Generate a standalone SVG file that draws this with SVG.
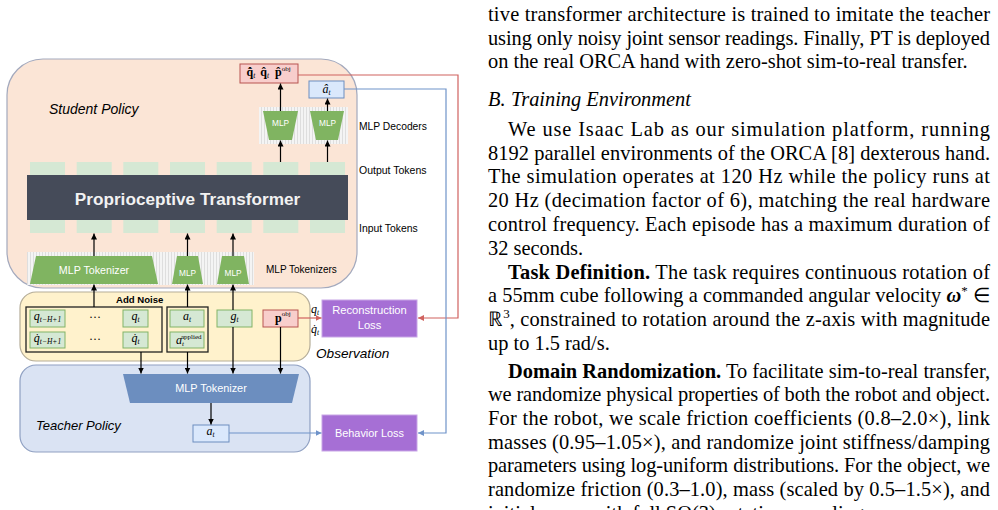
<svg xmlns="http://www.w3.org/2000/svg" width="998" height="510" viewBox="0 0 998 510">
<defs>
  <pattern id="stripes" width="3" height="3" patternUnits="userSpaceOnUse">
    <rect width="3" height="3" fill="#f4f4f4"/>
    <rect width="1" height="3" fill="#dedede"/>
  </pattern>
  <marker id="ah" viewBox="0 0 10 10" refX="10" refY="5" markerWidth="6" markerHeight="6" orient="auto" markerUnits="userSpaceOnUse">
    <path d="M0,0 L10,5 L0,10 z" fill="#000"/>
  </marker>
  <marker id="ahr" viewBox="0 0 10 10" refX="10" refY="5" markerWidth="6" markerHeight="6" orient="auto" markerUnits="userSpaceOnUse">
    <path d="M0,0 L10,5 L0,10 z" fill="#d0625f"/>
  </marker>
  <marker id="ahb" viewBox="0 0 10 10" refX="10" refY="5" markerWidth="6" markerHeight="6" orient="auto" markerUnits="userSpaceOnUse">
    <path d="M0,0 L10,5 L0,10 z" fill="#6f93c9"/>
  </marker>
</defs>
<style>
  .sans{font-family:"Liberation Sans",Arial,sans-serif;fill:#000}
  .it{font-style:italic}
  .wt{fill:#fff}
  .m{font-family:"Liberation Serif","Times New Roman",serif;fill:#000}
  .mi{font-family:"Liberation Serif","Times New Roman",serif;font-style:italic;fill:#000}
  .up{font-style:normal}
  .body{font-family:"Liberation Serif","Times New Roman",serif;font-size:20.4px;fill:#000}
  .tok{fill:#d5e8d4}
  .gbox{fill:#d5e8d4;stroke:#82b366;stroke-width:1}
  .rbox{fill:#f8cecc;stroke:#b85450;stroke-width:1}
  .bbox{fill:#dae8fc;stroke:#6c8ebf;stroke-width:1}
  .kbox{fill:none;stroke:#222;stroke-width:1.3}
  .green{fill:#80b461}
  .purple{fill:#a66fd5;stroke:#c8a6e6;stroke-width:1}
  .ln{fill:none;stroke:#000;stroke-width:1.2}
  .lr{fill:none;stroke:#d0625f;stroke-width:1.2}
  .lb{fill:none;stroke:#6f93c9;stroke-width:1.2}
</style>

<!-- Containers -->
<g id="student-policy">
  <rect x="7" y="59" width="350" height="229" rx="36" fill="#fbe5d6" stroke="#a3a9bd" stroke-width="1.2"/>
  <text class="sans it" x="49" y="114" font-size="14">Student Policy</text>
</g>
<g id="observation">
  <rect x="20" y="292" width="290" height="69" rx="16" fill="#fff2cc" stroke="#b5ad98" stroke-width="1.2"/>
  <text class="sans it" x="316" y="358" font-size="13.6">Observation</text>
</g>
<g id="teacher-policy">
  <rect x="20" y="365" width="290" height="87" rx="16" fill="#dae3f3" stroke="#8fa0c2" stroke-width="1.2"/>
  <text class="sans it" x="36" y="430" font-size="13">Teacher Policy</text>
</g>

<!-- Student internals -->
<g id="output-tokens">
  <rect class="tok" x="30" y="162" width="35" height="13"/>
  <rect class="tok" x="76.7" y="162" width="35" height="13"/>
  <rect class="tok" x="123.3" y="162" width="35" height="13"/>
  <rect class="tok" x="170" y="162" width="35" height="13"/>
  <rect class="tok" x="216.7" y="162" width="35" height="13"/>
  <rect class="tok" x="263.3" y="162" width="35" height="13"/>
  <rect class="tok" x="310" y="162" width="35" height="13"/>
  <text class="sans" x="359" y="174" font-size="10.5">Output Tokens</text>
</g>
<g id="transformer">
  <rect x="27" y="175" width="321" height="45" fill="#454b59"/>
  <text class="sans" x="187.5" y="205" font-size="17.2" font-weight="bold" text-anchor="middle" style="fill:#f2f2f2">Proprioceptive Transformer</text>
</g>
<g id="input-tokens">
  <rect class="tok" x="30" y="220" width="35" height="13"/>
  <rect class="tok" x="76.7" y="220" width="35" height="13"/>
  <rect class="tok" x="123.3" y="220" width="35" height="13"/>
  <rect class="tok" x="170" y="220" width="35" height="13"/>
  <rect class="tok" x="216.7" y="220" width="35" height="13"/>
  <rect class="tok" x="263.3" y="220" width="35" height="13"/>
  <rect class="tok" x="310" y="220" width="35" height="13"/>
  <text class="sans" x="359" y="232" font-size="10.4">Input Tokens</text>
</g>
<g id="mlp-tokenizers">
  <rect x="27" y="252" width="227" height="33" fill="url(#stripes)"/>
  <polygon class="green" points="36,256 152,256 158,284 30,284"/>
  <text class="sans wt" x="94" y="274" font-size="10.7" text-anchor="middle">MLP Tokenizer</text>
  <polygon class="green" points="177,256 198,256 203,284 172,284"/>
  <text class="sans wt" x="187.5" y="276" font-size="8.3" text-anchor="middle">MLP</text>
  <polygon class="green" points="222,256 244,256 249,284 217,284"/>
  <text class="sans wt" x="233" y="276" font-size="8.3" text-anchor="middle">MLP</text>
  <text class="sans" x="266" y="273" font-size="10">MLP Tokenizers</text>
</g>
<g id="mlp-decoders">
  <rect x="259" y="107" width="89" height="37" fill="url(#stripes)"/>
  <polygon class="green" points="263,111 298,111 292,140 269,140"/>
  <text class="sans wt" x="280.5" y="126" font-size="8.3" text-anchor="middle">MLP</text>
  <polygon class="green" points="310,111 344,111 338,140 316,140"/>
  <text class="sans wt" x="327.5" y="126" font-size="8.3" text-anchor="middle">MLP</text>
  <text class="sans" x="359" y="130" font-size="10.3">MLP Decoders</text>
</g>
<g id="reconstruction-output">
  <rect class="rbox" x="240" y="64" width="58" height="19"/>
  <text class="m" x="246.5" y="76" font-size="12"><tspan font-weight="bold">q̂̇</tspan><tspan class="mi" font-size="7.5" dy="2">t</tspan><tspan font-weight="bold" dx="5" dy="-2">q̂</tspan><tspan class="mi" font-size="7.5" dy="2">t</tspan><tspan font-weight="bold" dx="6" dy="-2">p̂</tspan><tspan font-size="7" dy="-5">obj</tspan></text>
</g>
<g id="action-output">
  <rect class="bbox" x="309" y="81" width="35" height="17"/>
  <text class="mi" x="326.5" y="92.5" font-size="12" text-anchor="middle">â<tspan font-size="7.5" dy="2">t</tspan></text>
</g>

<!-- Observation internals -->
<g id="noisy-inputs">
  <text class="sans" x="116" y="303" font-size="9.6" font-weight="bold">Add Noise</text>
  <rect class="kbox" x="26" y="307" width="136" height="45"/>
  <rect class="kbox" x="167" y="307" width="41" height="45"/>
  <rect class="gbox" x="30" y="310" width="35" height="17"/>
  <text class="mi" x="47.5" y="320" font-size="12" text-anchor="middle">q<tspan font-size="7.5" dy="2">t−H+1</tspan></text>
  <text class="m" x="95" y="321" font-size="12" text-anchor="middle">···</text>
  <rect class="gbox" x="123" y="310" width="25" height="17"/>
  <text class="mi" x="135.5" y="320" font-size="12" text-anchor="middle">q<tspan font-size="7.5" dy="2">t</tspan></text>
  <rect class="gbox" x="30" y="332" width="35" height="16"/>
  <text class="mi" x="47.5" y="342" font-size="12" text-anchor="middle">q̇<tspan font-size="7.5" dy="2">t−H+1</tspan></text>
  <text class="m" x="95" y="343" font-size="12" text-anchor="middle">···</text>
  <rect class="gbox" x="123" y="332" width="25" height="16"/>
  <text class="mi" x="135.5" y="342" font-size="12" text-anchor="middle">q̇<tspan font-size="7.5" dy="2">t</tspan></text>
  <rect class="gbox" x="170" y="310" width="34" height="17"/>
  <text class="mi" x="187" y="320" font-size="12" text-anchor="middle">a<tspan font-size="7.5" dy="2">t</tspan></text>
  <rect class="gbox" x="170" y="332" width="34" height="16"/>
  <text class="mi" x="176" y="344" font-size="12">a<tspan font-size="7" dy="2">t</tspan><tspan class="up" font-size="7" dx="-3" dy="-7">applied</tspan></text>
</g>
<g id="goal">
  <rect class="gbox" x="217" y="310" width="35" height="17"/>
  <text class="mi" x="234.5" y="320" font-size="12" text-anchor="middle">g<tspan font-size="7.5" dy="2">t</tspan></text>
</g>
<g id="object-pose">
  <rect class="rbox" x="263" y="310" width="35" height="17"/>
  <text class="m" x="275" y="321.5" font-size="12"><tspan font-weight="bold">p</tspan><tspan font-size="7" dy="-5.5">obj</tspan></text>
</g>
<g id="joint-targets">
  <text class="mi" x="311" y="313" font-size="12">q<tspan font-size="7.5" dy="2">t</tspan></text>
  <text class="mi" x="311" y="333" font-size="12">q̇<tspan font-size="7.5" dy="2">t</tspan></text>
</g>

<!-- Teacher internals -->
<g id="teacher-tokenizer">
  <polygon points="123,374 299,374 292,403 130,403" fill="#6c8ebf"/>
  <text class="sans wt" x="211" y="392" font-size="10.9" text-anchor="middle">MLP Tokenizer</text>
</g>
<g id="teacher-action">
  <rect class="bbox" x="193" y="425" width="36" height="17"/>
  <text class="mi" x="210.5" y="435" font-size="12" text-anchor="middle">a<tspan font-size="7.5" dy="2">t</tspan></text>
</g>

<!-- Losses -->
<g id="reconstruction-loss">
  <rect class="purple" x="322" y="300" width="95" height="37"/>
  <text class="sans wt" x="369.5" y="314" font-size="11.2" text-anchor="middle">Reconstruction</text>
  <text class="sans wt" x="369.5" y="329" font-size="11.2" text-anchor="middle">Loss</text>
</g>
<g id="behavior-loss">
  <rect class="purple" x="322" y="415" width="95" height="36"/>
  <text class="sans wt" x="369.5" y="437" font-size="10.9" text-anchor="middle">Behavior Loss</text>
</g>

<!-- Connectors -->
<g id="connectors">
  <line class="ln" x1="94" y1="256" x2="94" y2="233.5" marker-end="url(#ah)"/>
  <line class="ln" x1="187.5" y1="256" x2="187.5" y2="233.5" marker-end="url(#ah)"/>
  <line class="ln" x1="233" y1="256" x2="233" y2="233.5" marker-end="url(#ah)"/>
  <line class="ln" x1="280.5" y1="162" x2="280.5" y2="140.5" marker-end="url(#ah)"/>
  <line class="ln" x1="327.5" y1="162" x2="327.5" y2="140.5" marker-end="url(#ah)"/>
  <line class="ln" x1="280.5" y1="111" x2="280.5" y2="83.5" marker-end="url(#ah)"/>
  <line class="ln" x1="327.5" y1="111" x2="327.5" y2="98.5" marker-end="url(#ah)"/>
  <line class="ln" x1="94" y1="307" x2="94" y2="284.5" marker-end="url(#ah)"/>
  <line class="ln" x1="187.5" y1="307" x2="187.5" y2="284.5" marker-end="url(#ah)"/>
  <line class="ln" x1="233" y1="310" x2="233" y2="284.5" marker-end="url(#ah)"/>
  <line class="ln" x1="141" y1="352" x2="141" y2="373.5" marker-end="url(#ah)"/>
  <line class="ln" x1="187.5" y1="352" x2="187.5" y2="373.5" marker-end="url(#ah)"/>
  <line class="ln" x1="233" y1="327" x2="233" y2="373.5" marker-end="url(#ah)"/>
  <line class="ln" x1="280.5" y1="327" x2="280.5" y2="373.5" marker-end="url(#ah)"/>
  <line class="ln" x1="211" y1="403" x2="211" y2="424.5" marker-end="url(#ah)"/>
  <path class="lr" d="M298,75 H458 V318 H418" marker-end="url(#ahr)"/>
  <path class="lr" d="M298,318 H321.5" marker-end="url(#ahr)"/>
  <path class="lb" d="M344,89 H446 V433 H418" marker-end="url(#ahb)"/>
  <path class="lb" d="M229,433 H321.5" marker-end="url(#ahb)"/>
</g>

<!-- Paper text -->
<g id="paper-text">
  <text class="body" x="488" y="21" textLength="502" lengthAdjust="spacing">tive transformer architecture is trained to imitate the teacher</text>
  <text class="body" x="488" y="44.7" textLength="502" lengthAdjust="spacing">using only noisy joint sensor readings. Finally, PT is deployed</text>
  <text class="body" x="488" y="68.4">on the real ORCA hand with zero-shot sim-to-real transfer.</text>
  <text class="body" x="488" y="106" font-style="italic">B.<tspan x="511">Training Environment</tspan></text>
  <text class="body" x="508" y="136" textLength="482" lengthAdjust="spacing">We use Isaac Lab as our simulation platform, running</text>
  <text class="body" x="488" y="159.7" textLength="502" lengthAdjust="spacing">8192 parallel environments of the ORCA [8] dexterous hand.</text>
  <text class="body" x="488" y="183.4" textLength="502" lengthAdjust="spacing">The simulation operates at 120 Hz while the policy runs at</text>
  <text class="body" x="488" y="207.1" textLength="502" lengthAdjust="spacing">20 Hz (decimation factor of 6), matching the real hardware</text>
  <text class="body" x="488" y="230.8" textLength="502" lengthAdjust="spacing">control frequency. Each episode has a maximum duration of</text>
  <text class="body" x="488" y="254.5">32 seconds.</text>
  <text class="body" x="508" y="278.5" textLength="482" lengthAdjust="spacing"><tspan font-weight="bold">Task Definition.</tspan> The task requires continuous rotation of</text>
  <text class="body" x="488" y="302.2" textLength="502" lengthAdjust="spacing">a 55mm cube following a commanded angular velocity <tspan font-weight="bold" font-style="italic">ω</tspan><tspan font-size="13" dy="-7">*</tspan><tspan dy="7"> ∈</tspan></text>
  <text class="body" x="488" y="325.9" textLength="502" lengthAdjust="spacing">ℝ<tspan font-size="13" dy="-8">3</tspan><tspan dy="8">, constrained to rotation around the z-axis with magnitude</tspan></text>
  <text class="body" x="488" y="349.6">up to 1.5 rad/s.</text>
  <text class="body" x="508" y="377.5" textLength="482" lengthAdjust="spacing"><tspan font-weight="bold">Domain Randomization.</tspan> To facilitate sim-to-real transfer,</text>
  <text class="body" x="488" y="401.2" textLength="502" lengthAdjust="spacing">we randomize physical properties of both the robot and object.</text>
  <text class="body" x="488" y="424.9" textLength="502" lengthAdjust="spacing">For the robot, we scale friction coefficients (0.8–2.0×), link</text>
  <text class="body" x="488" y="448.6" textLength="502" lengthAdjust="spacing">masses (0.95–1.05×), and randomize joint stiffness/damping</text>
  <text class="body" x="488" y="472.3" textLength="502" lengthAdjust="spacing">parameters using log-uniform distributions. For the object, we</text>
  <text class="body" x="488" y="496" textLength="502" lengthAdjust="spacing">randomize friction (0.3–1.0), mass (scaled by 0.5–1.5×), and</text>
  <text class="body" x="488" y="519.7">initial poses with full SO(3) rotation sampling.</text>
</g>
</svg>
